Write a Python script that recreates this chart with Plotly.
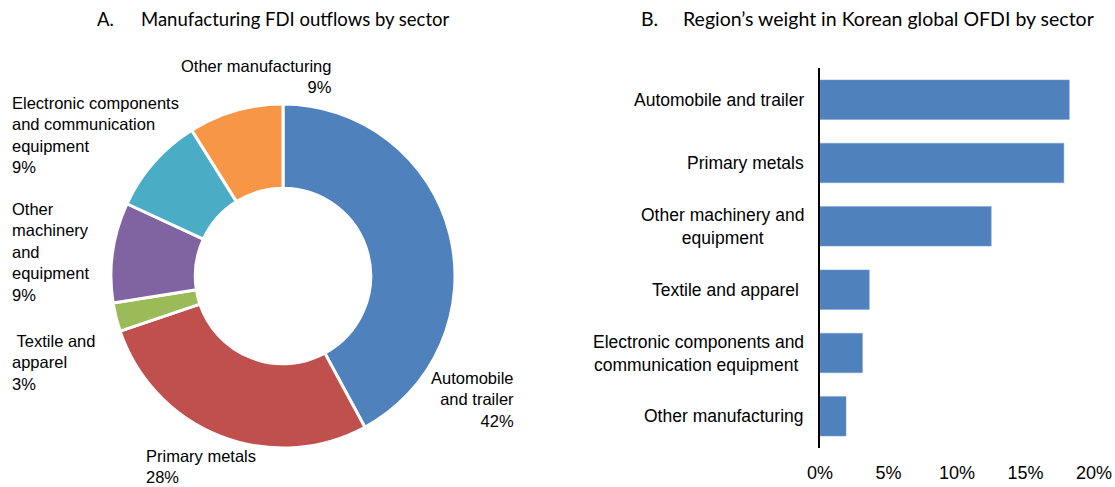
import plotly.graph_objects as go

W, H = 1115, 487

# ---- Panel A data (donut) ----
pie_labels = ["Automobile and trailer", "Primary metals", "Textile and apparel",
              "Other machinery and equipment", "Electronic components and communication equipment",
              "Other manufacturing"]
pie_label_text = ["Automobile<br>and trailer", "Primary metals", "\u00a0Textile and<br>apparel",
                  "Other<br>machinery<br>and<br>equipment",
                  "Electronic components<br>and communication<br>equipment",
                  "Other manufacturing"]
pie_values = [42.1, 27.7, 2.7, 9.4, 9.2, 8.9]
pie_colors = ["#4F81BD", "#C0504D", "#9BBB59", "#8064A2", "#4BACC6", "#F79646"]

# ---- Panel B data (bars) ----
bar_categories = ["Automobile and trailer", "Primary metals", "Other machinery and<br>equipment",
                  "Textile and apparel\u00a0", "Electronic components and<br>communication equipment\u00a0",
                  "Other manufacturing"]
bar_values = [18.2, 17.8, 12.5, 3.6, 3.1, 1.9]
x_ticks = [0, 5, 10, 15, 20]
x_ticktext = [f"{t}%" for t in x_ticks]

PIE_FONT = dict(family="Liberation Sans", size=16.5, color="#000000")
BAR_LAB_FONT = dict(family="Liberation Sans", size=17.5, color="#000000")
TICK_FONT = dict(family="Liberation Sans", size=18, color="#000000")
TITLE_FONT = dict(family="Lato", size=18.5, color="#000000")
TITLE_FONT_B = dict(family="Lato", size=19.5, color="#000000")

def px(x):
    return x / W

def py(y):
    return 1 - y / H

fig = go.Figure()

# donut: centre (283,276), radius 172
cx, cy, r = 283, 276, 172
fig.add_trace(go.Pie(
    labels=pie_labels, values=pie_values, sort=False, direction="clockwise", rotation=0,
    hole=0.51, textinfo="none", hoverinfo="label+percent",
    marker=dict(colors=pie_colors, line=dict(color="#FFFFFF", width=3)),
    domain=dict(x=[px(cx - r), px(cx + r)], y=[py(cy + r), py(cy - r)]),
    showlegend=False,
))

fig.add_trace(go.Bar(
    x=bar_values, y=bar_categories, orientation="h",
    marker=dict(color="#4F81BD", line=dict(color="#7EA1D2", width=0.5)),
    xaxis="x", yaxis="y", showlegend=False,
))

annotations = []
pie_label_pos = {
    0: (516, 399.5, "right"),
    1: (144, 466, "left"),
    2: (10, 362.5, "left"),
    3: (10, 252, "left"),
    4: (10, 134.5, "left"),
    5: (334, 76.5, "right"),
}
for i, (xp, yp, anc) in pie_label_pos.items():
    annotations.append(dict(
        x=px(xp), y=py(yp), xref="paper", yref="paper", xanchor=anc, yanchor="middle",
        align=anc, showarrow=False, font=PIE_FONT,
        text=f"{pie_label_text[i]}<br>{round(pie_values[i])}%",
    ))

for c in bar_categories:
    annotations.append(dict(
        x=px(806), y=c, xref="paper", yref="y", xanchor="right", yanchor="middle",
        align="center", showarrow=False, font=BAR_LAB_FONT, text=c,
    ))

annotations += [
    dict(x=px(95), y=py(19), xref="paper", yref="paper", xanchor="left", yanchor="middle",
         showarrow=False, font=TITLE_FONT, text="A."),
    dict(x=px(139), y=py(19), xref="paper", yref="paper", xanchor="left", yanchor="middle",
         showarrow=False, font=TITLE_FONT, text="Manufacturing FDI outflows by sector"),
    dict(x=px(639), y=py(19), xref="paper", yref="paper", xanchor="left", yanchor="middle",
         showarrow=False, font=TITLE_FONT_B, text="B."),
    dict(x=px(681), y=py(19), xref="paper", yref="paper", xanchor="left", yanchor="middle",
         showarrow=False, font=TITLE_FONT_B, text="Region\u2019s weight in Korean global OFDI by sector"),
]

fig.update_layout(
    width=W, height=H, autosize=False,
    margin=dict(l=0, r=0, t=0, b=0),
    paper_bgcolor="#FFFFFF", plot_bgcolor="#FFFFFF",
    bargap=0.376,
    xaxis=dict(domain=[px(820), px(1094)], range=[0, 20], tickvals=x_ticks, ticktext=x_ticktext,
               showgrid=False, zeroline=False, showline=False, ticks="", tickfont=TICK_FONT,
               ticklabelstandoff=12, automargin=False, fixedrange=True),
    yaxis=dict(domain=[py(448), py(68)], categoryorder="array", categoryarray=bar_categories,
               autorange="reversed", showticklabels=False, showgrid=False, zeroline=False,
               showline=True, linecolor="#000000", linewidth=2, ticks="", automargin=False,
               fixedrange=True),
    annotations=annotations,
)

fig.write_html("out.html", config={"displayModeBar": False},
               post_script="document.body.style.margin='0';document.body.style.overflow='hidden';")
